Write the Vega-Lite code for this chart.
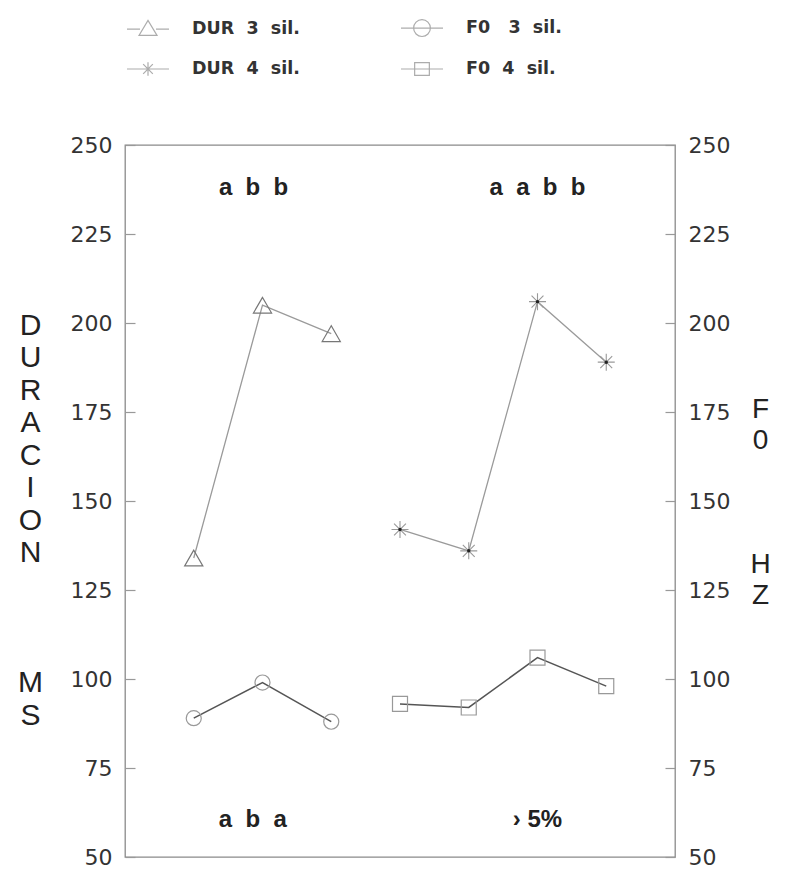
{
  "$schema": "https://vega.github.io/schema/vega-lite/v6.json",
  "width": 550,
  "height": 712,
  "autosize": {"type": "none"},
  "padding": {"left": 125, "top": 145, "right": 112, "bottom": 13},
  "background": "white",
  "config": {
    "view": {"stroke": "#8a8a8a", "strokeWidth": 1.3},
    "font": "Liberation Sans",
    "legend": {
      "orient": "none",
      "legendX": 1,
      "legendY": -139,
      "columns": 2,
      "direction": "horizontal",
      "symbolSize": 1764,
      "symbolStrokeColor": "#8a8a8a",
      "symbolStrokeWidth": 1.2,
      "symbolFillColor": "transparent",
      "labelFont": "DejaVu Sans",
      "labelFontSize": 17.5,
      "labelFontWeight": "bold",
      "labelColor": "#333",
      "labelOffset": 22,
      "columnPadding": 98,
      "rowPadding": 8,
      "padding": 0
    }
  },
  "datasets": {
    "pts": [
      {"s": "DUR 3 sil.", "pos": 1, "v": 134},
      {"s": "DUR 3 sil.", "pos": 2, "v": 205},
      {"s": "DUR 3 sil.", "pos": 3, "v": 197},
      {"s": "DUR 4 sil.", "pos": 4, "v": 142},
      {"s": "DUR 4 sil.", "pos": 5, "v": 136},
      {"s": "DUR 4 sil.", "pos": 6, "v": 206},
      {"s": "DUR 4 sil.", "pos": 7, "v": 189},
      {"s": "F0 3 sil.", "pos": 1, "v": 89},
      {"s": "F0 3 sil.", "pos": 2, "v": 99},
      {"s": "F0 3 sil.", "pos": 3, "v": 88},
      {"s": "F0 4 sil.", "pos": 4, "v": 93},
      {"s": "F0 4 sil.", "pos": 5, "v": 92},
      {"s": "F0 4 sil.", "pos": 6, "v": 106},
      {"s": "F0 4 sil.", "pos": 7, "v": 98}
    ],
    "notes": [
      {"t": "a\u00a0\u00a0b\u00a0\u00a0b", "pos": 1.87, "v": 238},
      {"t": "a\u00a0\u00a0a\u00a0\u00a0b\u00a0\u00a0b", "pos": 6.0, "v": 238},
      {"t": "a\u00a0\u00a0b\u00a0\u00a0a", "pos": 1.86, "v": 60.4},
      {"t": "›\u00a05%", "pos": 6.0, "v": 60.4}
    ]
  },
  "resolve": {"scale": {"y": "independent"}},
  "layer": [
    {
      "layer": [
        {
          "data": {"name": "pts"},
          "transform": [{"filter": "indexof(datum.s, 'DUR') === 0"}],
          "mark": {"type": "line", "color": "#9a9a9a", "strokeWidth": 1.3},
          "encoding": {
            "x": {"field": "pos", "type": "quantitative", "scale": {"domain": [0, 8], "nice": false}, "axis": null},
            "y": {
              "field": "v", "type": "quantitative",
              "scale": {"domain": [50, 250], "nice": false, "zero": false},
              "axis": {
                "orient": "left",
                "values": [50, 75, 100, 125, 150, 175, 200, 225, 250],
                "domain": false, "grid": false,
                "tickSize": -10, "tickColor": "#999", "tickWidth": 1.2,
                "labelFont": "DejaVu Sans", "labelFontSize": 22, "labelColor": "#333",
                "labelPadding": 23,
                "title": ["D", "U", "R", "A", "C", "I", "O", "N", "\u200b", "\u200c", "\u2060", "M", "S"],
                "titleAngle": 0, "titleFontSize": 30, "titleLineHeight": 32.5,
                "titleFontWeight": "normal", "titleColor": "#222", "titleFont": "Liberation Sans",
                "titleX": -95, "titleY": 165, "titleAlign": "center", "titleBaseline": "top"
              }
            },
            "detail": {"field": "s"}
          }
        },
        {
          "data": {"name": "pts"},
          "transform": [{"filter": "datum.s === 'DUR 3 sil.'"}],
          "mark": {"type": "point", "shape": "triangle-up", "size": 330, "filled": false, "stroke": "#777", "strokeWidth": 1.2, "opacity": 1},
          "encoding": {
            "x": {"field": "pos", "type": "quantitative"},
            "y": {"field": "v", "type": "quantitative"}
          }
        },
        {
          "data": {"name": "pts"},
          "transform": [{"filter": "datum.s === 'DUR 4 sil.'"}],
          "mark": {"type": "point", "shape": "M-1,0H1M0,-1V1M-0.7,-0.7L0.7,0.7M-0.7,0.7L0.7,-0.7", "size": 289, "filled": false, "stroke": "#999", "strokeWidth": 1.1, "opacity": 1},
          "encoding": {
            "x": {"field": "pos", "type": "quantitative"},
            "y": {"field": "v", "type": "quantitative"}
          }
        },
        {
          "data": {"name": "pts"},
          "transform": [{"filter": "datum.s === 'DUR 4 sil.'"}],
          "mark": {"type": "point", "shape": "circle", "size": 12, "filled": true, "color": "#222", "opacity": 1},
          "encoding": {
            "x": {"field": "pos", "type": "quantitative"},
            "y": {"field": "v", "type": "quantitative"}
          }
        },
        {
          "data": {"name": "notes"},
          "mark": {"type": "text", "font": "Liberation Sans", "fontSize": 24, "fontWeight": "bold", "color": "#222", "baseline": "middle", "align": "center"},
          "encoding": {
            "x": {"field": "pos", "type": "quantitative"},
            "y": {"field": "v", "type": "quantitative"},
            "text": {"field": "t"}
          }
        },
        {
          "data": {"name": "pts"},
          "transform": [{"filter": "false"}],
          "mark": {"type": "point", "filled": false, "color": "#8a8a8a"},
          "encoding": {
            "shape": {
              "field": "s", "type": "nominal",
              "scale": {
                "domain": ["DUR 3 sil.", "F0 3 sil.", "DUR 4 sil.", "F0 4 sil."],
                "range": [
                  "M-1,0H-0.38M0.38,0H1M-0.43,0.3L0,-0.42L0.43,0.3Z",
                  "M-1,0H1M-0.4,0A0.4,0.4 0 1,0 0.4,0A0.4,0.4 0 1,0 -0.4,0Z",
                  "M-1,0H1M0,-0.32V0.32M-0.23,-0.23L0.23,0.23M-0.23,0.23L0.23,-0.23",
                  "M-1,0H1M-0.35,-0.3H0.35V0.3H-0.35Z"
                ]
              },
              "legend": {
                "title": null,
                "labelExpr": "datum.label === 'F0 3 sil.' ? 'F0\u00a0\u00a0 3\u00a0 sil.' : replace(replace(datum.label, ' ', '\u00a0 '), ' s', '\u00a0 s')"
              }
            }
          }
        }
      ]
    },
    {
      "layer": [
        {
          "data": {"name": "pts"},
          "transform": [{"filter": "indexof(datum.s, 'F0') === 0"}],
          "mark": {"type": "line", "color": "#555", "strokeWidth": 1.5},
          "encoding": {
            "x": {"field": "pos", "type": "quantitative"},
            "y": {
              "field": "v", "type": "quantitative",
              "scale": {"domain": [50, 250], "nice": false, "zero": false},
              "axis": {
                "orient": "right",
                "values": [50, 75, 100, 125, 150, 175, 200, 225, 250],
                "domain": false, "grid": false,
                "tickSize": -10, "tickColor": "#999", "tickWidth": 1.2,
                "labelFont": "DejaVu Sans", "labelFontSize": 22, "labelColor": "#333",
                "labelPadding": 23,
                "title": ["F", "0", "\u200b", "\u200c", "\u2060", "H", "Z"],
                "titleAngle": 0, "titleFontSize": 28, "titleLineHeight": 31,
                "titleFontWeight": "normal", "titleColor": "#222", "titleFont": "Liberation Sans",
                "titleX": 85, "titleY": 250, "titleAlign": "center", "titleBaseline": "top"
              }
            },
            "detail": {"field": "s"}
          }
        },
        {
          "data": {"name": "pts"},
          "transform": [{"filter": "datum.s === 'F0 3 sil.'"}],
          "mark": {"type": "point", "shape": "circle", "size": 227, "filled": false, "stroke": "#999", "strokeWidth": 1.2, "opacity": 1},
          "encoding": {
            "x": {"field": "pos", "type": "quantitative"},
            "y": {"field": "v", "type": "quantitative"}
          }
        },
        {
          "data": {"name": "pts"},
          "transform": [{"filter": "datum.s === 'F0 4 sil.'"}],
          "mark": {"type": "point", "shape": "square", "size": 225, "filled": false, "stroke": "#999", "strokeWidth": 1.2, "opacity": 1},
          "encoding": {
            "x": {"field": "pos", "type": "quantitative"},
            "y": {"field": "v", "type": "quantitative"}
          }
        }
      ]
    }
  ]
}
